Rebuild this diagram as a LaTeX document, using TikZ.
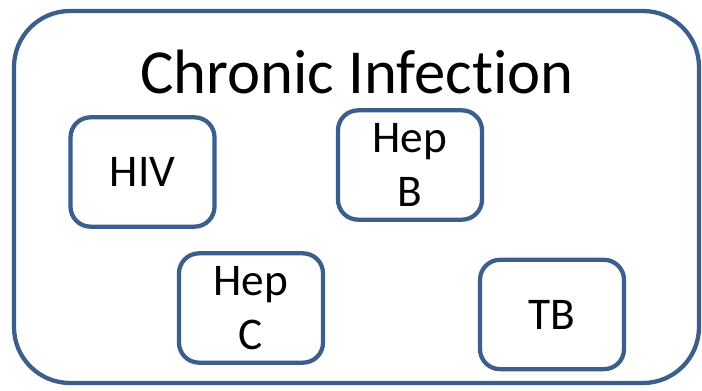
\documentclass[tikz,border=0pt]{standalone}
\usepackage{fontspec}
\setmainfont[Ligatures=NoCommon]{Carlito}
\usetikzlibrary{positioning}
\definecolor{frameblue}{HTML}{3B5E8C}

\begin{document}
\begin{tikzpicture}[x=0.75pt,y=-0.75pt,
    disease/.style={draw=frameblue, line width=3.2pt, rounded corners=15pt,
      minimum width=108pt, minimum height=82pt, inner sep=0pt, align=center,
      font=\fontsize{34}{41}\selectfont}]
    \useasboundingbox (0,0) rectangle (702,391);

    % Outer frame and title
    \node[draw=frameblue, line width=3.2pt, rounded corners=42pt,
      minimum width=513.75pt, minimum height=279pt] (frame) at (356.5,197) {};
    \node[font=\fontsize{47}{56}\selectfont] (title) at (357,72) {Chronic Infection};

    % Infections
    \node[disease] (hiv) at (142.5,172) {HIV};
    \node[disease] (hepb) at (410,165) {Hep\\B};
    \node[disease] (hepc) at (251,308) {Hep\\C};
    \node[disease] (tb) at (552,314.5) {TB};

\end{tikzpicture}
\end{document}
